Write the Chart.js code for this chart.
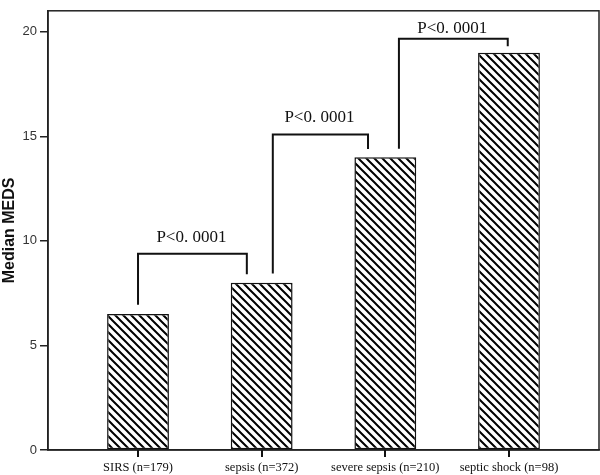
<!DOCTYPE html>
<html>
<head>
<meta charset="utf-8">
<script src="https://cdn.jsdelivr.net/npm/chart.js@4"></script>
<style>
html,body{margin:0;padding:0;background:#fff;}
#wrap{width:600px;height:475px;}
</style>
</head>
<body>
<div id="wrap"><canvas id="c" width="600" height="475"></canvas></div>
<script>
const categories = ['SIRS (n=179)', 'sepsis (n=372)', 'severe sepsis (n=210)', 'septic shock (n=98)'];
const medianMEDS = [6.5, 8, 14, 19];
const yTicks = [0, 5, 10, 15, 20];
// significance brackets, in data units
const bracketX1 = [0, 1.09, 2.11];
const bracketX2 = [0.88, 1.86, 2.99];
const bracketLeftBottom = [6.95, 8.44, 14.4];
const bracketRightBottom = [8.4, 14.39, 19.3];
const bracketTop = [9.38, 15.08, 19.66];
const bracketLabelY = [9.94, 15.66, 19.92];
const bracketLabels = ['P<0. 0001', 'P<0. 0001', 'P<0. 0001'];

function hatch() {
  const s = 8;
  const c = document.createElement('canvas');
  c.width = s; c.height = s;
  const g = c.getContext('2d');
  g.fillStyle = '#fff';
  g.fillRect(0, 0, s, s);
  g.strokeStyle = '#000';
  g.lineWidth = 2;
  g.beginPath();
  for (let k = -1; k <= 1; k++) {
    g.moveTo(k * s - 1, -1);
    g.lineTo(k * s + s + 1, s + 1);
  }
  g.stroke();
  return g.createPattern(c, 'repeat');
}

const frame = {
  id: 'frame',
  afterDraw(chart) {
    const {ctx, chartArea: a} = chart;
    const xs = chart.scales.x;
    ctx.save();
    ctx.strokeStyle = '#222';
    ctx.lineWidth = 1.5;
    ctx.strokeRect(a.left, a.top, a.right - a.left, a.bottom - a.top);
    ctx.lineWidth = 2;
    ctx.strokeStyle = '#111';
    ctx.beginPath();
    for (let i = 0; i < xs.ticks.length; i++) {
      const px = Math.round(xs.getPixelForValue(xs.ticks[i].value));
      ctx.moveTo(px, a.bottom);
      ctx.lineTo(px, a.bottom + 7);
    }
    ctx.stroke();
    ctx.restore();
  }
};

const brackets = {
  id: 'brackets',
  afterDatasetsDraw(chart) {
    const {ctx} = chart;
    const xs = chart.scales.x, ys = chart.scales.y;
    ctx.save();
    ctx.strokeStyle = '#111';
    ctx.lineWidth = 2;
    ctx.lineJoin = 'miter';
    for (let i = 0; i < bracketTop.length; i++) {
      const x1 = xs.getPixelForValue(bracketX1[i]);
      const x2 = xs.getPixelForValue(bracketX2[i]);
      const yt = ys.getPixelForValue(bracketTop[i]);
      ctx.beginPath();
      ctx.moveTo(x1, ys.getPixelForValue(bracketLeftBottom[i]));
      ctx.lineTo(x1, yt);
      ctx.lineTo(x2, yt);
      ctx.lineTo(x2, ys.getPixelForValue(bracketRightBottom[i]));
      ctx.stroke();
      ctx.fillStyle = '#111';
      ctx.font = '17px "Liberation Serif", "Times New Roman", serif';
      ctx.textAlign = 'center';
      ctx.textBaseline = 'alphabetic';
      ctx.fillText(bracketLabels[i], (x1 + x2) / 2 - 1, ys.getPixelForValue(bracketLabelY[i]));
    }
    ctx.restore();
  }
};

new Chart(document.getElementById('c'), {
  type: 'bar',
  data: {
    datasets: [{
      data: medianMEDS.map((v, i) => ({x: i, y: v})),
      backgroundColor: hatch(),
      borderColor: '#111',
      borderWidth: 1.5,
      borderSkipped: false,
      barPercentage: 0.5,
      categoryPercentage: 1
    }]
  },
  options: {
    responsive: false,
    animation: false,
    devicePixelRatio: 1,
    layout: {padding: {top: 2, right: 1, left: 0, bottom: 0}},
    plugins: {legend: {display: false}, tooltip: {enabled: false}},
    scales: {
      x: {
        type: 'linear',
        offset: false,
        min: -0.728,
        max: 3.728,
        afterBuildTicks(s) { s.ticks = categories.map((c, i) => ({value: i})); },
        afterFit(s) { s.height = 25; },
        ticks: {
          autoSkip: false,
          maxRotation: 0,
          padding: 3,
          color: '#111',
          font: {family: '"Liberation Serif", "Times New Roman", serif', size: 12.5},
          callback: (v) => categories[v]
        },
        grid: {offset: false, drawOnChartArea: false, drawTicks: true, tickLength: 7, color: '#111', lineWidth: 2},
        border: {display: true, color: '#222', width: 1.5}
      },
      y: {
        min: 0,
        max: 21,
        afterBuildTicks(s) { s.ticks = yTicks.map(v => ({value: v})); },
        afterFit(s) { s.width = 48; },
        ticks: {
          padding: 3,
          color: '#333',
          font: {family: '"Liberation Sans", Arial, sans-serif', size: 13}
        },
        grid: {drawOnChartArea: false, drawTicks: true, tickLength: 8, color: '#222', lineWidth: 1.5},
        border: {display: true, color: '#222', width: 1.5},
        title: {
          display: true,
          text: 'Median MEDS',
          color: '#111',
          padding: {top: 0, bottom: 1},
          font: {family: '"Liberation Sans", Arial, sans-serif', size: 16, weight: 'bold'}
        }
      }
    }
  },
  plugins: [frame, brackets]
});
</script>
</body>
</html>
